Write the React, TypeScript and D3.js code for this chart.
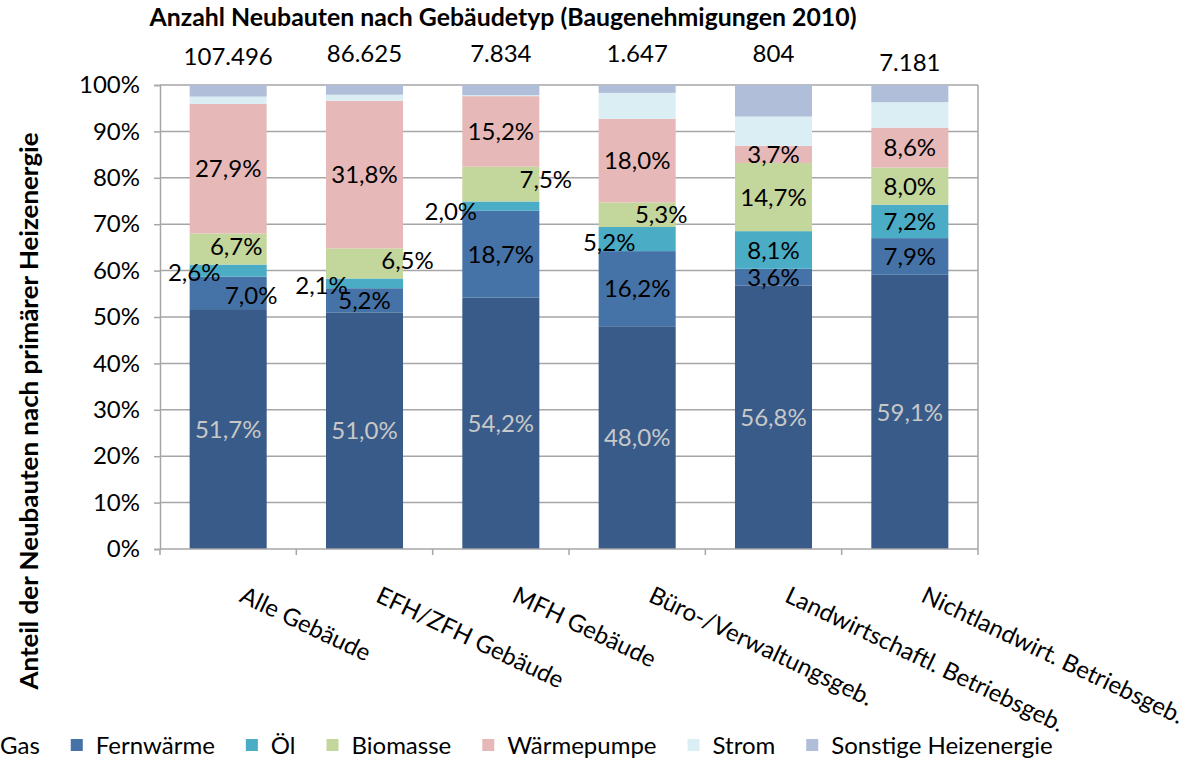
import { useEffect, useRef } from "react";
import * as d3 from "d3";

const categories = [
  "Alle Gebäude",
  "EFH/ZFH Gebäude",
  "MFH Gebäude",
  "Büro-/Verwaltungsgeb.",
  "Landwirtschaftl. Betriebsgeb.",
  "Nichtlandwirt. Betriebsgeb.",
];
const totals = [107496, 86625, 7834, 1647, 804, 7181];

const seriesNames = ["Gas", "Fernwärme", "Öl", "Biomasse", "Wärmepumpe", "Strom", "Sonstige Heizenergie"];
const gas = [51.7, 51.0, 54.2, 48.0, 56.8, 59.1];
const fernwaerme = [7.0, 5.2, 18.7, 16.2, 3.6, 7.9];
const oel = [2.6, 2.1, 2.0, 5.2, 8.1, 7.2];
const biomasse = [6.7, 6.5, 7.5, 5.3, 14.7, 8.0];
const waermepumpe = [27.9, 31.8, 15.2, 18.0, 3.7, 8.6];
const strom = [1.6, 1.3, 0.2, 5.6, 6.3, 5.5];
const sonstige = [2.5, 2.1, 2.2, 1.7, 6.8, 3.7];
const yTicks = [0, 10, 20, 30, 40, 50, 60, 70, 80, 90, 100];

const colors = ["#385b89", "#4572a7", "#4bacc6", "#c3d69b", "#e6b9b8", "#dbeef4", "#b0bed9"];
const FONT = "Lato, 'Open Sans', sans-serif";
const FS = 24;

// Excel hat einige kleine Beschriftungen verschoben
const labelNudge: Record<string, [number, number]> = {
  "0-1": [23, 2], "0-2": [-34, 2], "0-3": [8, -3],
  "1-2": [-43, 2], "1-3": [43, -3],
  "2-2": [-50, 5], "2-3": [45, -5],
  "3-2": [-28, 3], "3-3": [24, 0],
};
const countDy = [0, -3, -3, -3, -3, 6];

const de = d3.formatLocale({ decimal: ",", thousands: ".", grouping: [3], currency: ["", "€"] });
const fmtCount = de.format(",d");

function App() {
  const ref = useRef<SVGSVGElement>(null);

  useEffect(() => {
    const svg = d3.select(ref.current);
    svg.selectAll("*").remove();

    const left = 160, right = 978, top = 85, bottom = 549;
    const values = [gas, fernwaerme, oel, biomasse, waermepumpe, strom, sonstige];
    const rows = categories.map((c, i) => {
      const r: any = { cat: c };
      seriesNames.forEach((s, j) => (r[s] = values[j][i]));
      return r;
    });
    const stacked = d3.stack().keys(seriesNames)(rows);

    const x = d3.scaleBand().domain(categories).range([left, right]).paddingInner(0.435).paddingOuter(0.2175);
    const y = d3.scaleLinear().domain([0, 100]).range([bottom, top]);

    // Gitterlinien
    svg.append("g").selectAll("line").data(yTicks.slice(1)).join("line")
      .attr("x1", left).attr("x2", right)
      .attr("y1", (d) => y(d)).attr("y2", (d) => y(d))
      .attr("stroke", "#a6a6a6").attr("stroke-width", 1.5);
    svg.append("line").attr("x1", right).attr("x2", right).attr("y1", top).attr("y2", bottom)
      .attr("stroke", "#a6a6a6").attr("stroke-width", 1.5);

    // Balken
    const g = svg.append("g");
    stacked.forEach((layer, j) => {
      g.append("g").attr("fill", colors[j]).selectAll("rect").data(layer).join("rect")
        .attr("x", (d: any) => x(d.data.cat)!)
        .attr("width", x.bandwidth())
        .attr("y", (d) => y(d[1]))
        .attr("height", (d) => y(d[0]) - y(d[1]));
    });

    // Achsen
    const yAxis = svg.append("g").attr("transform", `translate(${left},0)`)
      .call(d3.axisLeft(y).tickValues(yTicks).tickSize(6).tickFormat((d) => `${d}%`));
    yAxis.select(".domain").attr("stroke", "#a6a6a6").attr("stroke-width", 1.5);
    yAxis.selectAll(".tick line").attr("stroke", "#a6a6a6").attr("stroke-width", 1.5);
    yAxis.selectAll(".tick text").attr("font-family", FONT).attr("font-size", FS).attr("fill", "#000").attr("x", -20);

    const step = x.step();
    svg.append("line").attr("x1", left).attr("x2", right).attr("y1", bottom).attr("y2", bottom)
      .attr("stroke", "#a6a6a6").attr("stroke-width", 1.5);
    svg.append("g").selectAll("line").data(d3.range(categories.length + 1)).join("line")
      .attr("x1", (i) => left + i * step).attr("x2", (i) => left + i * step)
      .attr("y1", bottom).attr("y2", bottom + 6)
      .attr("stroke", "#a6a6a6").attr("stroke-width", 1.5);

    svg.append("g").selectAll("text").data(categories).join("text")
      .attr("transform", (c) => `translate(${x(c)! + x.bandwidth() / 2 + 10},601) rotate(25.5)`)
      .attr("font-family", FONT).attr("font-size", FS).attr("fill", "#000")
      .text((c) => c);

    // Wertebeschriftungen
    stacked.slice(0, 5).forEach((layer, j) => {
      svg.append("g").selectAll("text").data(layer).join("text")
        .attr("x", (d: any, i) => x(d.data.cat)! + x.bandwidth() / 2 + (labelNudge[`${i}-${j}`]?.[0] ?? 0))
        .attr("y", (d, i) => (y(d[0]) + y(d[1])) / 2 + (labelNudge[`${i}-${j}`]?.[1] ?? 0))
        .attr("dy", "0.36em")
        .attr("text-anchor", "middle")
        .attr("font-family", FONT).attr("font-size", FS)
        .attr("fill", j === 0 ? "#c8c8c8" : "#000")
        .text((d) => `${(d[1] - d[0]).toFixed(1).replace(".", ",")}%`);
    });

    // Anzahl
    svg.append("g").selectAll("text").data(totals).join("text")
      .attr("x", (d, i) => x(categories[i])! + x.bandwidth() / 2)
      .attr("y", (d, i) => 65 + countDy[i])
      .attr("text-anchor", "middle")
      .attr("font-family", FONT).attr("font-size", FS).attr("fill", "#000")
      .text((d) => fmtCount(d));

    svg.append("text").attr("x", 503).attr("y", 26).attr("text-anchor", "middle")
      .attr("font-family", FONT).attr("font-size", 24).attr("font-weight", "bold")
      .attr("textLength", 707).attr("lengthAdjust", "spacingAndGlyphs")
      .text("Anzahl Neubauten nach Gebäudetyp (Baugenehmigungen 2010)");

    svg.append("text").attr("transform", "translate(38,411) rotate(-90)").attr("text-anchor", "middle")
      .attr("font-family", FONT).attr("font-size", 24).attr("font-weight", "bold")
      .attr("textLength", 557).attr("lengthAdjust", "spacingAndGlyphs")
      .text("Anteil der Neubauten nach primärer Heizenergie");

    // Legende
    const legend = svg.append("g");
    let lx = -25;
    seriesNames.forEach((s, j) => {
      legend.append("rect").attr("x", lx).attr("y", 739).attr("width", 12).attr("height", 12).attr("fill", colors[j]);
      const t = legend.append("text").attr("x", lx + 25).attr("y", 754)
        .attr("font-family", FONT).attr("font-size", FS).attr("fill", "#000").text(s);
      lx += 25 + (t.node() as SVGTextElement).getComputedTextLength() + 31;
    });
  }, []);

  return <svg ref={ref} width={1201} height={760} style={{ position: "absolute", left: 0, top: 0, background: "#fff" }} />;
}

export default App;
